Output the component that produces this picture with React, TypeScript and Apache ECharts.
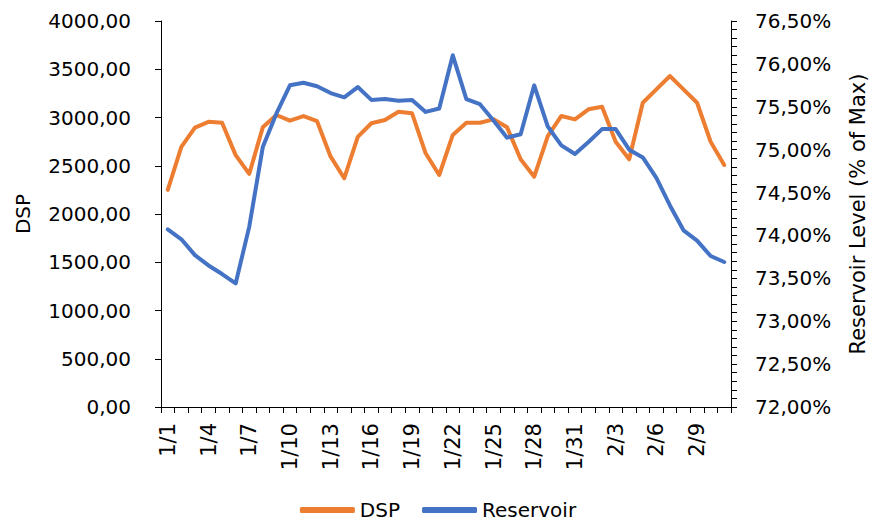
import React, { useEffect, useRef } from "react";
import * as echarts from "echarts";

const dates: string[] = [];
for (let d = 1; d <= 31; d++) dates.push(`1/${d}`);
for (let d = 1; d <= 11; d++) dates.push(`2/${d}`);

const dsp = [
  2250, 2695, 2895, 2955, 2945, 2610, 2415, 2898, 3026, 2967,
  3015, 2962, 2594, 2370, 2800, 2940, 2974, 3060, 3043, 2629,
  2404, 2819, 2946, 2946, 2981, 2898, 2567, 2387, 2808, 3016,
  2981, 3085, 3112, 2749, 2567, 3153, 3292, 3430, 3292, 3153,
  2749, 2508,
];

const reservoir = [
  74.07, 73.955, 73.77, 73.65, 73.55, 73.44, 74.1, 75.03, 75.42, 75.75,
  75.78, 75.74, 75.66, 75.61, 75.73, 75.58, 75.59, 75.57, 75.58, 75.44,
  75.48, 76.1, 75.59, 75.53, 75.34, 75.14, 75.18, 75.75, 75.27, 75.05,
  74.95, 75.09, 75.24, 75.24, 75.0, 74.91, 74.67, 74.35, 74.06, 73.94,
  73.76, 73.69,
];

const FONT = "DejaVu Sans";

export default function App() {
  const ref = useRef<HTMLDivElement>(null);
  useEffect(() => {
    if (!ref.current) return;
    const chart = echarts.init(ref.current, undefined, { renderer: "svg" });
    chart.setOption({
      animation: false,
      textStyle: { fontFamily: FONT },
      grid: { left: 161, right: 141, top: 21, bottom: 119 },
      legend: {
        bottom: 1,
        left: "center",
        itemWidth: 55,
        itemHeight: 6,
        itemGap: 22,
        icon: "roundRect",
        textStyle: { fontFamily: FONT, fontSize: 20, color: "#000" },
        data: ["DSP", "Reservoir"],
      },
      xAxis: {
        type: "category",
        data: dates,
        boundaryGap: true,
        axisLine: { lineStyle: { color: "#000", width: 1 } },
        axisTick: { show: true, interval: 0, length: 6, lineStyle: { color: "#000" } },
        axisLabel: {
          interval: 2,
          rotate: 90,
          margin: 16,
          fontFamily: FONT,
          fontSize: 21,
          color: "#000",
        },
        splitLine: { show: false },
      },
      yAxis: [
        {
          type: "value",
          min: 0,
          max: 4000,
          interval: 500,
          name: "DSP",
          nameLocation: "middle",
          nameGap: 128,
          nameTextStyle: { fontFamily: FONT, fontSize: 20, color: "#000" },
          axisLine: { show: true, lineStyle: { color: "#000", width: 1 } },
          axisTick: { show: true, length: 6, lineStyle: { color: "#000" } },
          axisLabel: {
            margin: 30,
            fontFamily: FONT,
            fontSize: 20,
            color: "#000",
            formatter: (v: number) => v.toFixed(2).replace(".", ","),
          },
          splitLine: { show: false },
        },
        {
          type: "value",
          min: 72,
          max: 76.5,
          interval: 0.5,
          name: "Reservoir Level (% of Max)",
          nameLocation: "middle",
          nameGap: 116,
          nameRotate: 90,
          nameTextStyle: { fontFamily: FONT, fontSize: 21, color: "#000" },
          axisLine: { show: true, lineStyle: { color: "#000", width: 1 } },
          axisTick: { show: true, length: 6, lineStyle: { color: "#000" } },
          minorTick: { show: true, splitNumber: 5, length: 6, lineStyle: { color: "#000" } },
          axisLabel: {
            margin: 24,
            fontFamily: FONT,
            fontSize: 20,
            color: "#000",
            formatter: (v: number) => v.toFixed(2).replace(".", ",") + "%",
          },
          splitLine: { show: false },
        },
      ],
      series: [
        {
          name: "DSP",
          type: "line",
          data: dsp,
          yAxisIndex: 0,
          showSymbol: false,
          symbol: "none",
          lineStyle: { color: "#ED7D31", width: 4, cap: "round", join: "round" },
          itemStyle: { color: "#ED7D31" },
        },
        {
          name: "Reservoir",
          type: "line",
          data: reservoir,
          yAxisIndex: 1,
          showSymbol: false,
          symbol: "none",
          lineStyle: { color: "#4472C4", width: 4, cap: "round", join: "round" },
          itemStyle: { color: "#4472C4" },
        },
      ],
    });
    return () => chart.dispose();
  }, []);
  return <div ref={ref} style={{ width: 876, height: 526, position: "absolute", left: 0, top: 0 }} />;
}
